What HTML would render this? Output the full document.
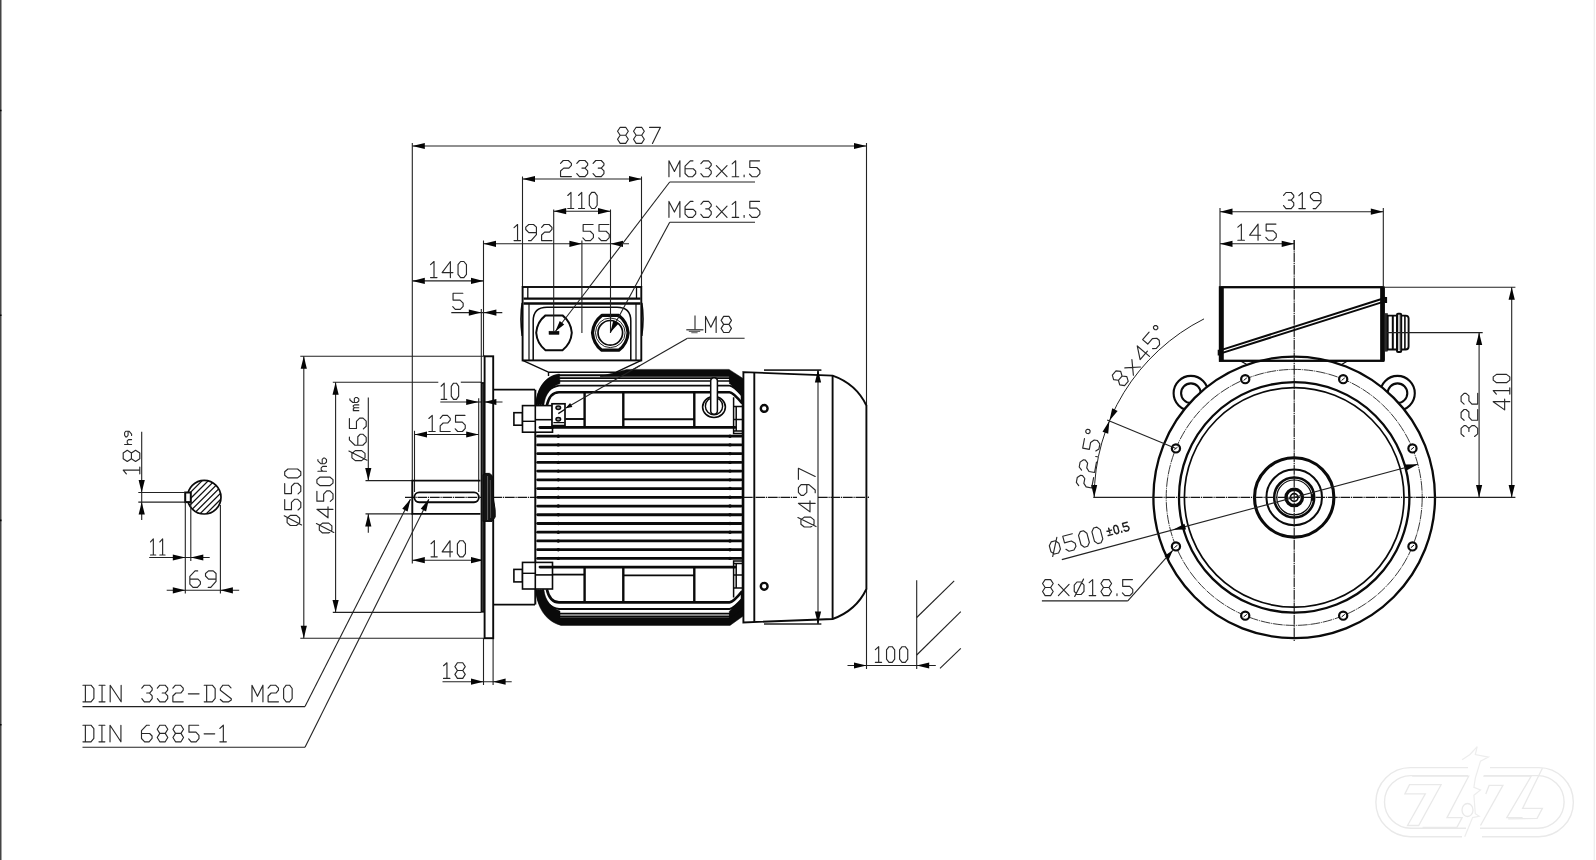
<!DOCTYPE html>
<html><head><meta charset="utf-8"><title>Motor drawing</title>
<style>html,body{margin:0;padding:0;background:#fff;}body{width:1596px;height:860px;overflow:hidden;font-family:"Liberation Sans",sans-serif;}svg{display:block}</style>
</head><body>
<svg width="1596" height="860" viewBox="0 0 1596 860">
<rect x="0" y="0" width="1596" height="860" fill="#fff"/>
<line x1="0.75" y1="0.00" x2="0.75" y2="860.00" stroke="#444" stroke-width="1.5" />
<line x1="0.00" y1="110.50" x2="1.50" y2="110.50" stroke="#000" stroke-width="1.6" />
<line x1="0.00" y1="315.30" x2="1.50" y2="315.30" stroke="#000" stroke-width="1.6" />
<line x1="0.00" y1="520.40" x2="1.50" y2="520.40" stroke="#000" stroke-width="1.6" />
<line x1="0.00" y1="724.80" x2="1.50" y2="724.80" stroke="#000" stroke-width="1.6" />
<line x1="412.30" y1="143.00" x2="412.30" y2="481.00" stroke="#222" stroke-width="1.1" />
<line x1="866.50" y1="143.00" x2="866.50" y2="406.00" stroke="#222" stroke-width="1.1" />
<line x1="412.30" y1="146.00" x2="866.50" y2="146.00" stroke="#222" stroke-width="1.1" />
<polygon points="412.30,146.00 424.80,142.90 424.80,149.10" fill="#050505"/>
<polygon points="866.50,146.00 854.00,149.10 854.00,142.90" fill="#050505"/>
<g transform="translate(617.55,127.30) rotate(0 0 16.1)" fill="none" stroke="#282828" stroke-width="1.15" stroke-linecap="round" stroke-linejoin="round" vector-effect="non-scaling-stroke"><path vector-effect="non-scaling-stroke" transform="translate(0.00,0) scale(1.5376,1.6100)" d="M1.7,0 L5.3,0 L7,2.45 L5.3,4.95 L1.7,4.95 L0,2.45 Z M1.7,4.95 L0,7.45 L1.7,10 L5.3,10 L7,7.45 L5.3,4.95"/><path vector-effect="non-scaling-stroke" transform="translate(15.99,0) scale(1.5376,1.6100)" d="M1.7,0 L5.3,0 L7,2.45 L5.3,4.95 L1.7,4.95 L0,2.45 Z M1.7,4.95 L0,7.45 L1.7,10 L5.3,10 L7,7.45 L5.3,4.95"/><path vector-effect="non-scaling-stroke" transform="translate(31.98,0) scale(1.5376,1.6100)" d="M0,0 L7.1,0 L1.9,10"/></g>
<line x1="522.50" y1="176.50" x2="522.50" y2="287.00" stroke="#222" stroke-width="1.1" />
<line x1="641.50" y1="176.50" x2="641.50" y2="287.00" stroke="#222" stroke-width="1.1" />
<line x1="522.50" y1="179.00" x2="641.50" y2="179.00" stroke="#222" stroke-width="1.1" />
<polygon points="522.50,179.00 535.00,175.90 535.00,182.10" fill="#050505"/>
<polygon points="641.50,179.00 629.00,182.10 629.00,175.90" fill="#050505"/>
<g transform="translate(560.55,160.50) rotate(0 0 16.1)" fill="none" stroke="#282828" stroke-width="1.15" stroke-linecap="round" stroke-linejoin="round" vector-effect="non-scaling-stroke"><path vector-effect="non-scaling-stroke" transform="translate(0.00,0) scale(1.5956,1.6100)" d="M0,1.8 L1.7,0 L4.9,0 L6.8,1.8 L6.8,3 L5.2,4.7 L2,4.7 L0,6.5 L0,10 L6.8,10"/><path vector-effect="non-scaling-stroke" transform="translate(16.27,0) scale(1.5956,1.6100)" d="M0,1.8 L1.65,0 L5.1,0 L6.8,1.8 L6.8,2.9 L5.1,4.7 L3.2,4.7 M5.1,4.7 L6.8,6.5 L6.8,8.1 L5.1,10 L1.65,10 L0,8.1"/><path vector-effect="non-scaling-stroke" transform="translate(32.55,0) scale(1.5956,1.6100)" d="M0,1.8 L1.65,0 L5.1,0 L6.8,1.8 L6.8,2.9 L5.1,4.7 L3.2,4.7 M5.1,4.7 L6.8,6.5 L6.8,8.1 L5.1,10 L1.65,10 L0,8.1"/></g>
<line x1="553.70" y1="209.50" x2="553.70" y2="331.00" stroke="#222" stroke-width="1.1" />
<line x1="610.50" y1="209.50" x2="610.50" y2="333.00" stroke="#222" stroke-width="1.1" />
<line x1="553.70" y1="211.20" x2="610.50" y2="211.20" stroke="#222" stroke-width="1.1" />
<polygon points="553.70,211.20 566.20,208.10 566.20,214.30" fill="#050505"/>
<polygon points="610.50,211.20 598.00,214.30 598.00,208.10" fill="#050505"/>
<g transform="translate(567.75,192.40) rotate(0 0 16.1)" fill="none" stroke="#282828" stroke-width="1.15" stroke-linecap="round" stroke-linejoin="round" vector-effect="non-scaling-stroke"><path vector-effect="non-scaling-stroke" transform="translate(0.00,0) scale(1.4000,1.6100)" d="M0,1.9 L2.3,0 L2.3,10 M0,10 L4.3,10"/><path vector-effect="non-scaling-stroke" transform="translate(10.78,0) scale(1.4000,1.6100)" d="M0,1.9 L2.3,0 L2.3,10 M0,10 L4.3,10"/><path vector-effect="non-scaling-stroke" transform="translate(21.56,0) scale(1.4000,1.6100)" d="M0,2 L1.7,0 L3.9,0 L5.6,2 L5.6,8 L3.9,10 L1.7,10 L0,8 Z"/></g>
<line x1="483.50" y1="240.50" x2="483.50" y2="356.00" stroke="#222" stroke-width="1.1" />
<line x1="581.90" y1="240.50" x2="581.90" y2="333.00" stroke="#222" stroke-width="1.1" />
<line x1="483.50" y1="243.80" x2="629.00" y2="243.80" stroke="#222" stroke-width="1.1" />
<polygon points="483.50,243.80 496.00,240.70 496.00,246.90" fill="#050505"/>
<polygon points="581.90,243.80 569.40,246.90 569.40,240.70" fill="#050505"/>
<polygon points="610.50,243.80 623.00,240.70 623.00,246.90" fill="#050505"/>
<g transform="translate(514.05,224.50) rotate(0 0 16.1)" fill="none" stroke="#282828" stroke-width="1.15" stroke-linecap="round" stroke-linejoin="round" vector-effect="non-scaling-stroke"><path vector-effect="non-scaling-stroke" transform="translate(0.00,0) scale(1.5221,1.6100)" d="M0,1.9 L2.3,0 L2.3,10 M0,10 L4.3,10"/><path vector-effect="non-scaling-stroke" transform="translate(11.72,0) scale(1.5221,1.6100)" d="M1.8,10 L3.5,10 L7,6.3 L7,1.6 L5.1,0 L2,0 L0,1.6 L0,3.1 L2,5 L7,5"/><path vector-effect="non-scaling-stroke" transform="translate(27.55,0) scale(1.5221,1.6100)" d="M0,1.8 L1.7,0 L4.9,0 L6.8,1.8 L6.8,3 L5.2,4.7 L2,4.7 L0,6.5 L0,10 L6.8,10"/></g>
<g transform="translate(582.85,224.50) rotate(0 0 16.1)" fill="none" stroke="#282828" stroke-width="1.15" stroke-linecap="round" stroke-linejoin="round" vector-effect="non-scaling-stroke"><path vector-effect="non-scaling-stroke" transform="translate(0.00,0) scale(1.5529,1.6100)" d="M6.6,0 L0.2,0 L0.2,4.2 L4.8,4.2 L6.8,6.1 L6.8,8.1 L4.9,10 L1.65,10 L0,8.3"/><path vector-effect="non-scaling-stroke" transform="translate(15.84,0) scale(1.5529,1.6100)" d="M6.6,0 L0.2,0 L0.2,4.2 L4.8,4.2 L6.8,6.1 L6.8,8.1 L4.9,10 L1.65,10 L0,8.3"/></g>
<line x1="412.30" y1="280.90" x2="483.50" y2="280.90" stroke="#222" stroke-width="1.1" />
<polygon points="412.30,280.90 424.80,277.80 424.80,284.00" fill="#050505"/>
<polygon points="483.50,280.90 471.00,284.00 471.00,277.80" fill="#050505"/>
<g transform="translate(430.55,261.50) rotate(0 0 16.1)" fill="none" stroke="#282828" stroke-width="1.15" stroke-linecap="round" stroke-linejoin="round" vector-effect="non-scaling-stroke"><path vector-effect="non-scaling-stroke" transform="translate(0.00,0) scale(1.5021,1.6100)" d="M0,1.9 L2.3,0 L2.3,10 M0,10 L4.3,10"/><path vector-effect="non-scaling-stroke" transform="translate(11.57,0) scale(1.5021,1.6100)" d="M5.5,10 L5.5,0 L0,6.9 L7.2,6.9"/><path vector-effect="non-scaling-stroke" transform="translate(27.49,0) scale(1.5021,1.6100)" d="M0,2 L1.7,0 L3.9,0 L5.6,2 L5.6,8 L3.9,10 L1.7,10 L0,8 Z"/></g>
<line x1="451.30" y1="312.60" x2="502.30" y2="312.60" stroke="#222" stroke-width="1.1" />
<polygon points="481.30,312.60 468.80,315.70 468.80,309.50" fill="#050505"/>
<polygon points="483.90,312.60 496.40,309.50 496.40,315.70" fill="#050505"/>
<line x1="481.30" y1="308.90" x2="481.30" y2="383.00" stroke="#222" stroke-width="1.1" />
<g transform="translate(452.75,293.30) rotate(0 0 16.1)" fill="none" stroke="#282828" stroke-width="1.15" stroke-linecap="round" stroke-linejoin="round" vector-effect="non-scaling-stroke"><path vector-effect="non-scaling-stroke" transform="translate(0.00,0) scale(1.5294,1.6100)" d="M6.6,0 L0.2,0 L0.2,4.2 L4.8,4.2 L6.8,6.1 L6.8,8.1 L4.9,10 L1.65,10 L0,8.3"/></g>
<line x1="300.30" y1="356.30" x2="485.00" y2="356.30" stroke="#222" stroke-width="1.1" />
<line x1="300.30" y1="638.20" x2="485.00" y2="638.20" stroke="#222" stroke-width="1.1" />
<line x1="303.80" y1="356.30" x2="303.80" y2="638.20" stroke="#222" stroke-width="1.1" />
<polygon points="303.80,356.30 306.90,368.80 300.70,368.80" fill="#050505"/>
<polygon points="303.80,638.20 300.70,625.70 306.90,625.70" fill="#050505"/>
<g transform="translate(300.80,509.35) rotate(-90 0 16.1)" fill="none" stroke="#282828" stroke-width="1.15" stroke-linecap="round" stroke-linejoin="round" vector-effect="non-scaling-stroke"><path vector-effect="non-scaling-stroke" transform="translate(0.00,0) scale(1.5754,1.6100)" d="M0,3.5 L1.8,1.5 L4.6,1.5 L6.4,3.5 L6.4,7.3 L4.6,9.3 L1.8,9.3 L0,7.3 Z M0.3,10.5 L6.1,-0.3"/><path vector-effect="non-scaling-stroke" transform="translate(15.44,0) scale(1.5754,1.6100)" d="M6.6,0 L0.2,0 L0.2,4.2 L4.8,4.2 L6.8,6.1 L6.8,8.1 L4.9,10 L1.65,10 L0,8.3"/><path vector-effect="non-scaling-stroke" transform="translate(31.51,0) scale(1.5754,1.6100)" d="M6.6,0 L0.2,0 L0.2,4.2 L4.8,4.2 L6.8,6.1 L6.8,8.1 L4.9,10 L1.65,10 L0,8.3"/><path vector-effect="non-scaling-stroke" transform="translate(47.58,0) scale(1.5754,1.6100)" d="M0,2 L1.7,0 L3.9,0 L5.6,2 L5.6,8 L3.9,10 L1.7,10 L0,8 Z"/></g>
<line x1="332.80" y1="382.20" x2="438.30" y2="382.20" stroke="#222" stroke-width="1.1" />
<line x1="460.80" y1="382.20" x2="481.30" y2="382.20" stroke="#222" stroke-width="1.1" />
<line x1="332.80" y1="612.40" x2="481.30" y2="612.40" stroke="#222" stroke-width="1.1" />
<line x1="335.60" y1="382.20" x2="335.60" y2="612.40" stroke="#222" stroke-width="1.1" />
<polygon points="335.60,382.20 338.70,394.70 332.50,394.70" fill="#050505"/>
<polygon points="335.60,612.40 332.50,599.90 338.70,599.90" fill="#050505"/>
<g transform="translate(333.00,516.85) rotate(-90 0 16.1)" fill="none" stroke="#282828" stroke-width="1.15" stroke-linecap="round" stroke-linejoin="round" vector-effect="non-scaling-stroke"><path vector-effect="non-scaling-stroke" transform="translate(0.00,0) scale(1.5442,1.6100)" d="M0,3.5 L1.8,1.5 L4.6,1.5 L6.4,3.5 L6.4,7.3 L4.6,9.3 L1.8,9.3 L0,7.3 Z M0.3,10.5 L6.1,-0.3"/><path vector-effect="non-scaling-stroke" transform="translate(15.13,0) scale(1.5442,1.6100)" d="M5.5,10 L5.5,0 L0,6.9 L7.2,6.9"/><path vector-effect="non-scaling-stroke" transform="translate(31.50,0) scale(1.5442,1.6100)" d="M6.6,0 L0.2,0 L0.2,4.2 L4.8,4.2 L6.8,6.1 L6.8,8.1 L4.9,10 L1.65,10 L0,8.3"/><path vector-effect="non-scaling-stroke" transform="translate(47.25,0) scale(1.5442,1.6100)" d="M0,2 L1.7,0 L3.9,0 L5.6,2 L5.6,8 L3.9,10 L1.7,10 L0,8 Z"/></g>
<g transform="translate(326.50,462.65) rotate(-90 0 8.6)" fill="none" stroke="#282828" stroke-width="1.1" stroke-linecap="round" stroke-linejoin="round" vector-effect="non-scaling-stroke"><path vector-effect="non-scaling-stroke" transform="translate(0.00,0) scale(0.8049,0.8600)" d="M0,0 L0,10 M0,5.6 L1.8,3.8 L4.3,3.8 L6,5.6 L6,10"/><path vector-effect="non-scaling-stroke" transform="translate(7.57,0) scale(0.8049,0.8600)" d="M5.2,0 L3.45,0 L0,3.3 L0,8 L2.1,10 L5,10 L7,8 L7,6.5 L5.4,5 L0,5"/></g>
<line x1="365.50" y1="480.60" x2="412.30" y2="480.60" stroke="#222" stroke-width="1.1" />
<line x1="365.50" y1="513.90" x2="412.30" y2="513.90" stroke="#222" stroke-width="1.1" />
<line x1="368.30" y1="397.50" x2="368.30" y2="480.60" stroke="#222" stroke-width="1.1" />
<line x1="368.30" y1="513.90" x2="368.30" y2="532.70" stroke="#222" stroke-width="1.1" />
<polygon points="368.30,480.60 365.20,468.10 371.40,468.10" fill="#050505"/>
<polygon points="368.30,513.90 371.40,526.40 365.20,526.40" fill="#050505"/>
<g transform="translate(366.20,443.85) rotate(-90 0 16.8)" fill="none" stroke="#282828" stroke-width="1.15" stroke-linecap="round" stroke-linejoin="round" vector-effect="non-scaling-stroke"><path vector-effect="non-scaling-stroke" transform="translate(0.00,0) scale(1.5741,1.6800)" d="M0,3.5 L1.8,1.5 L4.6,1.5 L6.4,3.5 L6.4,7.3 L4.6,9.3 L1.8,9.3 L0,7.3 Z M0.3,10.5 L6.1,-0.3"/><path vector-effect="non-scaling-stroke" transform="translate(15.43,0) scale(1.5741,1.6800)" d="M5.2,0 L3.45,0 L0,3.3 L0,8 L2.1,10 L5,10 L7,8 L7,6.5 L5.4,5 L0,5"/><path vector-effect="non-scaling-stroke" transform="translate(31.80,0) scale(1.5741,1.6800)" d="M6.6,0 L0.2,0 L0.2,4.2 L4.8,4.2 L6.8,6.1 L6.8,8.1 L4.9,10 L1.65,10 L0,8.3"/></g>
<g transform="translate(358.80,401.75) rotate(-90 0 8.9)" fill="none" stroke="#282828" stroke-width="1.1" stroke-linecap="round" stroke-linejoin="round" vector-effect="non-scaling-stroke"><path vector-effect="non-scaling-stroke" transform="translate(0.00,0) scale(0.7174,0.8900)" d="M0,3.8 L0,10 M0,5.2 L1.3,3.8 L2.8,3.8 L4,5.2 L4,10 M4,5.2 L5.3,3.8 L6.8,3.8 L8,5.2 L8,10"/><path vector-effect="non-scaling-stroke" transform="translate(8.18,0) scale(0.7174,0.8900)" d="M5.2,0 L3.45,0 L0,3.3 L0,8 L2.1,10 L5,10 L7,8 L7,6.5 L5.4,5 L0,5"/></g>
<line x1="440.30" y1="402.00" x2="502.50" y2="402.00" stroke="#222" stroke-width="1.1" />
<polygon points="478.70,402.00 466.20,405.10 466.20,398.90" fill="#050505"/>
<polygon points="483.90,402.00 496.40,398.90 496.40,405.10" fill="#050505"/>
<line x1="478.70" y1="398.30" x2="478.70" y2="492.00" stroke="#222" stroke-width="1.1" />
<g transform="translate(441.15,383.20) rotate(0 0 16.1)" fill="none" stroke="#282828" stroke-width="1.15" stroke-linecap="round" stroke-linejoin="round" vector-effect="non-scaling-stroke"><path vector-effect="non-scaling-stroke" transform="translate(0.00,0) scale(1.3158,1.6100)" d="M0,1.9 L2.3,0 L2.3,10 M0,10 L4.3,10"/><path vector-effect="non-scaling-stroke" transform="translate(10.13,0) scale(1.3158,1.6100)" d="M0,2 L1.7,0 L3.9,0 L5.6,2 L5.6,8 L3.9,10 L1.7,10 L0,8 Z"/></g>
<line x1="414.50" y1="430.80" x2="414.50" y2="492.00" stroke="#222" stroke-width="1.1" />
<line x1="414.50" y1="434.50" x2="478.70" y2="434.50" stroke="#222" stroke-width="1.1" />
<polygon points="414.50,434.50 427.00,431.40 427.00,437.60" fill="#050505"/>
<polygon points="478.70,434.50 466.20,437.60 466.20,431.40" fill="#050505"/>
<g transform="translate(428.85,415.40) rotate(0 0 16.1)" fill="none" stroke="#282828" stroke-width="1.15" stroke-linecap="round" stroke-linejoin="round" vector-effect="non-scaling-stroke"><path vector-effect="non-scaling-stroke" transform="translate(0.00,0) scale(1.4737,1.6100)" d="M0,1.9 L2.3,0 L2.3,10 M0,10 L4.3,10"/><path vector-effect="non-scaling-stroke" transform="translate(11.35,0) scale(1.4737,1.6100)" d="M0,1.8 L1.7,0 L4.9,0 L6.8,1.8 L6.8,3 L5.2,4.7 L2,4.7 L0,6.5 L0,10 L6.8,10"/><path vector-effect="non-scaling-stroke" transform="translate(26.38,0) scale(1.4737,1.6100)" d="M6.6,0 L0.2,0 L0.2,4.2 L4.8,4.2 L6.8,6.1 L6.8,8.1 L4.9,10 L1.65,10 L0,8.3"/></g>
<line x1="412.30" y1="514.00" x2="412.30" y2="563.50" stroke="#222" stroke-width="1.1" />
<line x1="412.30" y1="560.20" x2="483.50" y2="560.20" stroke="#222" stroke-width="1.1" />
<polygon points="412.30,560.20 424.80,557.10 424.80,563.30" fill="#050505"/>
<polygon points="483.50,560.20 471.00,563.30 471.00,557.10" fill="#050505"/>
<g transform="translate(431.05,540.70) rotate(0 0 16.1)" fill="none" stroke="#282828" stroke-width="1.15" stroke-linecap="round" stroke-linejoin="round" vector-effect="non-scaling-stroke"><path vector-effect="non-scaling-stroke" transform="translate(0.00,0) scale(1.4393,1.6100)" d="M0,1.9 L2.3,0 L2.3,10 M0,10 L4.3,10"/><path vector-effect="non-scaling-stroke" transform="translate(11.08,0) scale(1.4393,1.6100)" d="M5.5,10 L5.5,0 L0,6.9 L7.2,6.9"/><path vector-effect="non-scaling-stroke" transform="translate(26.34,0) scale(1.4393,1.6100)" d="M0,2 L1.7,0 L3.9,0 L5.6,2 L5.6,8 L3.9,10 L1.7,10 L0,8 Z"/></g>
<line x1="483.50" y1="638.20" x2="483.50" y2="685.00" stroke="#222" stroke-width="1.1" />
<line x1="493.10" y1="638.20" x2="493.10" y2="685.00" stroke="#222" stroke-width="1.1" />
<line x1="442.50" y1="681.70" x2="511.70" y2="681.70" stroke="#222" stroke-width="1.1" />
<polygon points="483.50,681.70 471.00,684.80 471.00,678.60" fill="#050505"/>
<polygon points="493.10,681.70 505.60,678.60 505.60,684.80" fill="#050505"/>
<g transform="translate(443.55,662.80) rotate(0 0 15.6)" fill="none" stroke="#282828" stroke-width="1.15" stroke-linecap="round" stroke-linejoin="round" vector-effect="non-scaling-stroke"><path vector-effect="non-scaling-stroke" transform="translate(0.00,0) scale(1.4762,1.5600)" d="M0,1.9 L2.3,0 L2.3,10 M0,10 L4.3,10"/><path vector-effect="non-scaling-stroke" transform="translate(11.37,0) scale(1.4762,1.5600)" d="M1.7,0 L5.3,0 L7,2.45 L5.3,4.95 L1.7,4.95 L0,2.45 Z M1.7,4.95 L0,7.45 L1.7,10 L5.3,10 L7,7.45 L5.3,4.95"/></g>
<line x1="764.00" y1="370.10" x2="821.30" y2="370.10" stroke="#222" stroke-width="1.1" />
<line x1="764.00" y1="624.00" x2="821.30" y2="624.00" stroke="#222" stroke-width="1.1" />
<line x1="818.00" y1="370.10" x2="818.00" y2="624.00" stroke="#222" stroke-width="1.1" />
<polygon points="818.00,370.10 821.10,382.60 814.90,382.60" fill="#050505"/>
<polygon points="818.00,624.00 814.90,611.50 821.10,611.50" fill="#050505"/>
<line x1="866.50" y1="588.00" x2="866.50" y2="669.00" stroke="#222" stroke-width="1.1" />
<line x1="916.70" y1="580.30" x2="916.70" y2="669.00" stroke="#222" stroke-width="1.1" />
<line x1="847.50" y1="665.50" x2="935.80" y2="665.50" stroke="#222" stroke-width="1.1" />
<polygon points="866.50,665.50 854.00,668.60 854.00,662.40" fill="#050505"/>
<polygon points="916.70,665.50 929.20,662.40 929.20,668.60" fill="#050505"/>
<g transform="translate(875.35,646.70) rotate(0 0 15.6)" fill="none" stroke="#282828" stroke-width="1.15" stroke-linecap="round" stroke-linejoin="round" vector-effect="non-scaling-stroke"><path vector-effect="non-scaling-stroke" transform="translate(0.00,0) scale(1.4529,1.5600)" d="M0,1.9 L2.3,0 L2.3,10 M0,10 L4.3,10"/><path vector-effect="non-scaling-stroke" transform="translate(11.19,0) scale(1.4529,1.5600)" d="M0,2 L1.7,0 L3.9,0 L5.6,2 L5.6,8 L3.9,10 L1.7,10 L0,8 Z"/><path vector-effect="non-scaling-stroke" transform="translate(24.26,0) scale(1.4529,1.5600)" d="M0,2 L1.7,0 L3.9,0 L5.6,2 L5.6,8 L3.9,10 L1.7,10 L0,8 Z"/></g>
<line x1="916.70" y1="617.50" x2="954.20" y2="580.80" stroke="#222" stroke-width="1.1" />
<line x1="916.70" y1="655.00" x2="960.80" y2="611.70" stroke="#222" stroke-width="1.1" />
<line x1="940.00" y1="668.30" x2="960.80" y2="648.30" stroke="#222" stroke-width="1.1" />
<g transform="translate(668.95,160.80) rotate(0 0 15.9)" fill="none" stroke="#282828" stroke-width="1.15" stroke-linecap="round" stroke-linejoin="round" vector-effect="non-scaling-stroke"><path vector-effect="non-scaling-stroke" transform="translate(0.00,0) scale(1.5201,1.5900)" d="M0,10 L0,0 L3.6,6.7 L7.2,0 L7.2,10"/><path vector-effect="non-scaling-stroke" transform="translate(16.11,0) scale(1.5201,1.5900)" d="M5.2,0 L3.45,0 L0,3.3 L0,8 L2.1,10 L5,10 L7,8 L7,6.5 L5.4,5 L0,5"/><path vector-effect="non-scaling-stroke" transform="translate(31.92,0) scale(1.5201,1.5900)" d="M0,1.8 L1.65,0 L5.1,0 L6.8,1.8 L6.8,2.9 L5.1,4.7 L3.2,4.7 M5.1,4.7 L6.8,6.5 L6.8,8.1 L5.1,10 L1.65,10 L0,8.1"/><path vector-effect="non-scaling-stroke" transform="translate(47.43,0) scale(1.5201,1.5900)" d="M0,3 L7,10 M7,3 L0,10"/><path vector-effect="non-scaling-stroke" transform="translate(63.23,0) scale(1.5201,1.5900)" d="M0,1.9 L2.3,0 L2.3,10 M0,10 L4.3,10"/><path vector-effect="non-scaling-stroke" transform="translate(74.94,0) scale(1.5201,1.5900)" d="M0.15,8.9 L0.15,10"/><path vector-effect="non-scaling-stroke" transform="translate(80.56,0) scale(1.5201,1.5900)" d="M6.6,0 L0.2,0 L0.2,4.2 L4.8,4.2 L6.8,6.1 L6.8,8.1 L4.9,10 L1.65,10 L0,8.3"/></g>
<g transform="translate(668.95,201.40) rotate(0 0 15.9)" fill="none" stroke="#282828" stroke-width="1.15" stroke-linecap="round" stroke-linejoin="round" vector-effect="non-scaling-stroke"><path vector-effect="non-scaling-stroke" transform="translate(0.00,0) scale(1.5201,1.5900)" d="M0,10 L0,0 L3.6,6.7 L7.2,0 L7.2,10"/><path vector-effect="non-scaling-stroke" transform="translate(16.11,0) scale(1.5201,1.5900)" d="M5.2,0 L3.45,0 L0,3.3 L0,8 L2.1,10 L5,10 L7,8 L7,6.5 L5.4,5 L0,5"/><path vector-effect="non-scaling-stroke" transform="translate(31.92,0) scale(1.5201,1.5900)" d="M0,1.8 L1.65,0 L5.1,0 L6.8,1.8 L6.8,2.9 L5.1,4.7 L3.2,4.7 M5.1,4.7 L6.8,6.5 L6.8,8.1 L5.1,10 L1.65,10 L0,8.1"/><path vector-effect="non-scaling-stroke" transform="translate(47.43,0) scale(1.5201,1.5900)" d="M0,3 L7,10 M7,3 L0,10"/><path vector-effect="non-scaling-stroke" transform="translate(63.23,0) scale(1.5201,1.5900)" d="M0,1.9 L2.3,0 L2.3,10 M0,10 L4.3,10"/><path vector-effect="non-scaling-stroke" transform="translate(74.94,0) scale(1.5201,1.5900)" d="M0.15,8.9 L0.15,10"/><path vector-effect="non-scaling-stroke" transform="translate(80.56,0) scale(1.5201,1.5900)" d="M6.6,0 L0.2,0 L0.2,4.2 L4.8,4.2 L6.8,6.1 L6.8,8.1 L4.9,10 L1.65,10 L0,8.3"/></g>
<line x1="669.70" y1="182.00" x2="755.00" y2="182.00" stroke="#222" stroke-width="1.1" />
<line x1="669.70" y1="222.20" x2="755.00" y2="222.20" stroke="#222" stroke-width="1.1" />
<line x1="669.70" y1="182.00" x2="555.30" y2="331.50" stroke="#222" stroke-width="1.1" />
<line x1="669.70" y1="222.20" x2="610.30" y2="332.60" stroke="#222" stroke-width="1.1" />
<line x1="687.50" y1="338.20" x2="744.60" y2="338.20" stroke="#222" stroke-width="1.1" />
<line x1="687.50" y1="338.20" x2="566.00" y2="408.00" stroke="#222" stroke-width="1.1" />
<g transform="translate(705.55,316.40) rotate(0 0 16.1)" fill="none" stroke="#282828" stroke-width="1.15" stroke-linecap="round" stroke-linejoin="round" vector-effect="non-scaling-stroke"><path vector-effect="non-scaling-stroke" transform="translate(0.00,0) scale(1.4716,1.6100)" d="M0,10 L0,0 L3.6,6.7 L7.2,0 L7.2,10"/><path vector-effect="non-scaling-stroke" transform="translate(15.60,0) scale(1.4716,1.6100)" d="M1.7,0 L5.3,0 L7,2.45 L5.3,4.95 L1.7,4.95 L0,2.45 Z M1.7,4.95 L0,7.45 L1.7,10 L5.3,10 L7,7.45 L5.3,4.95"/></g>
<line x1="695.00" y1="315.40" x2="695.00" y2="329.60" stroke="#282828" stroke-width="1.1" />
<line x1="686.30" y1="329.80" x2="703.40" y2="329.80" stroke="#282828" stroke-width="1.2" />
<line x1="688.80" y1="331.30" x2="700.20" y2="331.30" stroke="#555" stroke-width="1.2" />
<line x1="691.30" y1="332.70" x2="697.60" y2="332.70" stroke="#666" stroke-width="1.1" />
<line x1="82.50" y1="706.60" x2="305.00" y2="706.60" stroke="#222" stroke-width="1.1" />
<line x1="82.50" y1="747.20" x2="305.00" y2="747.20" stroke="#222" stroke-width="1.1" />
<line x1="305.00" y1="706.60" x2="410.40" y2="499.30" stroke="#222" stroke-width="1.1" />
<line x1="305.00" y1="747.20" x2="428.80" y2="499.30" stroke="#222" stroke-width="1.1" />
<polygon points="410.60,498.90 407.61,511.40 402.26,508.68" fill="#050505"/>
<polygon points="429.00,498.90 426.11,511.43 420.74,508.75" fill="#050505"/>
<g transform="translate(82.95,685.20) rotate(0 0 16.6)" fill="none" stroke="#282828" stroke-width="1.15" stroke-linecap="round" stroke-linejoin="round" vector-effect="non-scaling-stroke"><path vector-effect="non-scaling-stroke" transform="translate(0.00,0) scale(1.5215,1.6600)" d="M0,0 L5.3,0 L7.2,2 L7.2,8 L5.3,10 L0,10 M1.6,0 L1.6,10"/><path vector-effect="non-scaling-stroke" transform="translate(16.13,0) scale(1.5215,1.6600)" d="M0,0 L3.9,0 M1.95,0 L1.95,10 M0,10 L3.9,10"/><path vector-effect="non-scaling-stroke" transform="translate(27.23,0) scale(1.5215,1.6600)" d="M0,10 L0,0 L7.2,10 L7.2,0"/><path vector-effect="non-scaling-stroke" transform="translate(58.88,0) scale(1.5215,1.6600)" d="M0,1.8 L1.65,0 L5.1,0 L6.8,1.8 L6.8,2.9 L5.1,4.7 L3.2,4.7 M5.1,4.7 L6.8,6.5 L6.8,8.1 L5.1,10 L1.65,10 L0,8.1"/><path vector-effect="non-scaling-stroke" transform="translate(74.40,0) scale(1.5215,1.6600)" d="M0,1.8 L1.65,0 L5.1,0 L6.8,1.8 L6.8,2.9 L5.1,4.7 L3.2,4.7 M5.1,4.7 L6.8,6.5 L6.8,8.1 L5.1,10 L1.65,10 L0,8.1"/><path vector-effect="non-scaling-stroke" transform="translate(89.92,0) scale(1.5215,1.6600)" d="M0,1.8 L1.7,0 L4.9,0 L6.8,1.8 L6.8,3 L5.2,4.7 L2,4.7 L0,6.5 L0,10 L6.8,10"/><path vector-effect="non-scaling-stroke" transform="translate(105.44,0) scale(1.5215,1.6600)" d="M0,5.2 L7,5.2"/><path vector-effect="non-scaling-stroke" transform="translate(121.26,0) scale(1.5215,1.6600)" d="M0,0 L5.3,0 L7.2,2 L7.2,8 L5.3,10 L0,10 M1.6,0 L1.6,10"/><path vector-effect="non-scaling-stroke" transform="translate(137.39,0) scale(1.5215,1.6600)" d="M7,1.6 L5.3,0 L1.7,0 L0,2 L0,3 L7.2,8.2 L7.2,8.9 L5.5,10 L1.7,10 L0,8.6"/><path vector-effect="non-scaling-stroke" transform="translate(169.03,0) scale(1.5215,1.6600)" d="M0,10 L0,0 L3.6,6.7 L7.2,0 L7.2,10"/><path vector-effect="non-scaling-stroke" transform="translate(185.16,0) scale(1.5215,1.6600)" d="M0,1.8 L1.7,0 L4.9,0 L6.8,1.8 L6.8,3 L5.2,4.7 L2,4.7 L0,6.5 L0,10 L6.8,10"/><path vector-effect="non-scaling-stroke" transform="translate(200.68,0) scale(1.5215,1.6600)" d="M0,2 L1.7,0 L3.9,0 L5.6,2 L5.6,8 L3.9,10 L1.7,10 L0,8 Z"/></g>
<g transform="translate(82.95,725.20) rotate(0 0 16.6)" fill="none" stroke="#282828" stroke-width="1.15" stroke-linecap="round" stroke-linejoin="round" vector-effect="non-scaling-stroke"><path vector-effect="non-scaling-stroke" transform="translate(0.00,0) scale(1.5127,1.6600)" d="M0,0 L5.3,0 L7.2,2 L7.2,8 L5.3,10 L0,10 M1.6,0 L1.6,10"/><path vector-effect="non-scaling-stroke" transform="translate(16.03,0) scale(1.5127,1.6600)" d="M0,0 L3.9,0 M1.95,0 L1.95,10 M0,10 L3.9,10"/><path vector-effect="non-scaling-stroke" transform="translate(27.08,0) scale(1.5127,1.6600)" d="M0,10 L0,0 L7.2,10 L7.2,0"/><path vector-effect="non-scaling-stroke" transform="translate(58.54,0) scale(1.5127,1.6600)" d="M5.2,0 L3.45,0 L0,3.3 L0,8 L2.1,10 L5,10 L7,8 L7,6.5 L5.4,5 L0,5"/><path vector-effect="non-scaling-stroke" transform="translate(74.27,0) scale(1.5127,1.6600)" d="M1.7,0 L5.3,0 L7,2.45 L5.3,4.95 L1.7,4.95 L0,2.45 Z M1.7,4.95 L0,7.45 L1.7,10 L5.3,10 L7,7.45 L5.3,4.95"/><path vector-effect="non-scaling-stroke" transform="translate(90.00,0) scale(1.5127,1.6600)" d="M1.7,0 L5.3,0 L7,2.45 L5.3,4.95 L1.7,4.95 L0,2.45 Z M1.7,4.95 L0,7.45 L1.7,10 L5.3,10 L7,7.45 L5.3,4.95"/><path vector-effect="non-scaling-stroke" transform="translate(105.73,0) scale(1.5127,1.6600)" d="M6.6,0 L0.2,0 L0.2,4.2 L4.8,4.2 L6.8,6.1 L6.8,8.1 L4.9,10 L1.65,10 L0,8.3"/><path vector-effect="non-scaling-stroke" transform="translate(121.16,0) scale(1.5127,1.6600)" d="M0,5.2 L7,5.2"/><path vector-effect="non-scaling-stroke" transform="translate(136.90,0) scale(1.5127,1.6600)" d="M0,1.9 L2.3,0 L2.3,10 M0,10 L4.3,10"/></g>
<line x1="405.00" y1="497.30" x2="797.00" y2="497.30" stroke="#151515" stroke-width="1.15" stroke-dasharray="9.7 0.8 1.2 0.8"/>
<line x1="818.00" y1="497.30" x2="869.00" y2="497.30" stroke="#151515" stroke-width="1.15" stroke-dasharray="9.7 0.8 1.2 0.8"/>
<path d="M480.5,480.6 L412.3,480.6 L412.3,513.9 L480.5,513.9" stroke="#0a0a0a" stroke-width="1.9" fill="none" />
<rect x="414.30" y="492.40" width="64.60" height="9.80" stroke="#0a0a0a" stroke-width="1.9" fill="none" rx="4.9" ry="4.9"/>
<rect x="484.60" y="356.30" width="8.60" height="281.90" stroke="#0a0a0a" stroke-width="1.9" fill="none" />
<rect x="480.90" y="382.20" width="3.70" height="230.20" stroke="#0a0a0a" stroke-width="0.4" fill="#111" />
<line x1="482.70" y1="384.00" x2="482.70" y2="611.00" stroke="#777" stroke-width="0.5" />
<path d="M483.0,474.6 L486,473.4 L489.5,473.4 Q492.4,474.5 492.8,478 L493.6,500 Q495.8,510 495.2,517 L492,521.4 L483.0,521.4 Z" stroke="#0a0a0a" stroke-width="1" fill="#141414" />
<line x1="487.60" y1="476.00" x2="487.60" y2="520.00" stroke="#888" stroke-width="0.7" />
<line x1="490.30" y1="480.00" x2="490.60" y2="518.00" stroke="#666" stroke-width="0.7" />
<path d="M493.1,389.7 L535,389.7 M493.1,604.6 L535,604.6" stroke="#0a0a0a" stroke-width="1.8" fill="none" />
<rect x="522.60" y="287.00" width="118.70" height="73.40" stroke="#0a0a0a" stroke-width="1.9" fill="#fff" />
<line x1="527.80" y1="287.00" x2="527.80" y2="299.00" stroke="#0a0a0a" stroke-width="1.3" />
<line x1="636.50" y1="287.00" x2="636.50" y2="299.00" stroke="#0a0a0a" stroke-width="1.3" />
<line x1="523.50" y1="298.60" x2="640.50" y2="298.60" stroke="#0a0a0a" stroke-width="2.3" />
<line x1="523.50" y1="303.50" x2="640.50" y2="303.50" stroke="#0a0a0a" stroke-width="2.3" />
<line x1="529.00" y1="303.40" x2="529.00" y2="360.00" stroke="#0a0a0a" stroke-width="1.2" />
<line x1="636.00" y1="303.40" x2="636.00" y2="360.00" stroke="#0a0a0a" stroke-width="1.2" />
<path d="M533.2,360 L533.2,321 Q533.2,307.3 547,307.3 L617,307.3 Q630.8,307.3 630.8,321 L630.8,360" stroke="#0a0a0a" stroke-width="1.5" fill="none" />
<path d="M522.2,303 Q519.8,318 522.2,336 M641.8,303 Q644.2,318 641.8,336" stroke="#0a0a0a" stroke-width="1.6" fill="none" />
<path d="M522.6,360.4 L548.5,372.2 L548.5,377 M641.3,360.4 L616.2,372.2 M548.5,372.2 L617,372.2" stroke="#0a0a0a" stroke-width="1.4" fill="none" />
<path d="M545.5,315.40000000000003 L562.5,315.40000000000003 Q571,321.95 571.8,332.8 Q571,343.65000000000003 562.5,350.2 L545.5,350.2 Q537,343.65000000000003 536.2,332.8 Q537,321.95 545.5,315.40000000000003 Z" stroke="#0a0a0a" stroke-width="2.0" fill="#fff" stroke-linejoin="round"/>
<rect x="549.00" y="331.20" width="10.00" height="3.20" stroke="#0a0a0a" stroke-width="0.5" fill="#0a0a0a" />
<path d="M601.8,315.40000000000003 L618.8,315.40000000000003 Q627.3,321.95 628.0999999999999,332.8 Q627.3,343.65000000000003 618.8,350.2 L601.8,350.2 Q593.3,343.65000000000003 592.5,332.8 Q593.3,321.95 601.8,315.40000000000003 Z" stroke="#0a0a0a" stroke-width="3.2" fill="#fff" stroke-linejoin="round"/>
<circle cx="610.30" cy="332.80" r="14.80" stroke="#0a0a0a" stroke-width="0.9" fill="none" />
<circle cx="610.30" cy="332.80" r="12.30" stroke="#0a0a0a" stroke-width="1.7" fill="none" />
<line x1="553.70" y1="286.00" x2="553.70" y2="331.00" stroke="#222" stroke-width="1.1" />
<line x1="610.50" y1="286.00" x2="610.50" y2="333.00" stroke="#222" stroke-width="1.1" />
<line x1="581.90" y1="286.00" x2="581.90" y2="333.00" stroke="#222" stroke-width="1.1" />
<line x1="590.30" y1="286.00" x2="555.30" y2="331.50" stroke="#222" stroke-width="1.1" />
<line x1="635.40" y1="286.00" x2="610.30" y2="332.60" stroke="#222" stroke-width="1.1" />
<polygon points="555.30,331.50 559.77,321.07 564.22,324.48" fill="#050505"/>
<polygon points="610.30,332.60 613.35,320.61 618.63,323.46" fill="#050505"/>
<rect x="535.30" y="376.00" width="207.50" height="243.00" stroke="none" stroke-width="0" fill="#fff" />
<line x1="535.30" y1="389.70" x2="535.30" y2="604.60" stroke="#0a0a0a" stroke-width="2.0" />
<line x1="742.80" y1="380.00" x2="742.80" y2="615.00" stroke="#0a0a0a" stroke-width="2.2" />
<path d="M536.6,405 C536.6,392 545.6,376.2 559,375.2 L729.5,375.2 Q733,375.2 742.5,385.7" stroke="#0a0a0a" stroke-width="2.0" fill="none" />
<path d="M538.3,405 C538.3,392 547.3,379.2 559,378.2 L729.5,378.2 Q733,378.2 742.5,388.7" stroke="#0a0a0a" stroke-width="1.8" fill="none" />
<path d="M540.3,405 C540.3,392 549.3,382.0 559,381.0 L729.5,381.0 Q733,381.0 742.5,391.5" stroke="#0a0a0a" stroke-width="1.6" fill="none" />
<path d="M543,405 C543,392 552,386.6 559,385.6 L729.5,385.6 Q733,385.6 742.5,396.1" stroke="#0a0a0a" stroke-width="1.9" fill="none" />
<path d="M546.8,405.5 C548.5,398 552.5,392.2 559,392.2 L729.5,392.2 Q733,392.2 742.3,403.5" stroke="#0a0a0a" stroke-width="2.6" fill="none" />
<path d="M536.2,404 C536.5,389 545,375.5 559.5,374 L560,383.5 C552,386 545,394 543.8,405 Z" stroke="#0a0a0a" stroke-width="0.5" fill="#0a0a0a" />
<path d="M616,372.2 L627,369.4 L729,369.4 L743.5,378.8 L743.5,403 L741,403 L741,391 L729.5,381.5 L729.5,376.6 L600,376.6 Z" stroke="#0a0a0a" stroke-width="0.5" fill="#0a0a0a" />
<path d="M536.6,589.6 C536.6,602.6 545.6,618.4 559,619.4 L729.5,619.4 Q733,619.4 742.5,608.9" stroke="#0a0a0a" stroke-width="2.0" fill="none" />
<path d="M538.3,589.6 C538.3,602.6 547.3,615.4 559,616.4 L729.5,616.4 Q733,616.4 742.5,605.9" stroke="#0a0a0a" stroke-width="1.8" fill="none" />
<path d="M540.3,589.6 C540.3,602.6 549.3,612.6 559,613.6 L729.5,613.6 Q733,613.6 742.5,603.1" stroke="#0a0a0a" stroke-width="1.6" fill="none" />
<path d="M543,589.6 C543,602.6 552,608.0 559,609.0 L729.5,609.0 Q733,609.0 742.5,598.5" stroke="#0a0a0a" stroke-width="1.9" fill="none" />
<path d="M546.8,589.1 C548.5,596.6 552.5,602.4 559,602.4 L729.5,602.4 Q733,602.4 742.3,591.1" stroke="#0a0a0a" stroke-width="2.6" fill="none" />
<path d="M536.2,590.6 C536.5,605.6 545,621.5 561,625.4 L730,625.4 L743.5,615.8 L743.5,591.6 L741,591.6 L741,603.6 L729.5,613.1 L729.5,617.6 L560,617.6 L560,611.1 C552,608.6 545,600.6 543.8,589.6 Z" stroke="#0a0a0a" stroke-width="0.5" fill="#0a0a0a" />
<path d="M729.3,376 L743.5,386 L743.5,397.5 L729.3,383.3 Z" stroke="#0a0a0a" stroke-width="0.3" fill="#0a0a0a" />
<path d="M729.3,618.6 L743.5,608.6 L743.5,597.1 L729.3,611.3 Z" stroke="#0a0a0a" stroke-width="0.3" fill="#0a0a0a" />
<line x1="540.00" y1="427.46" x2="735.00" y2="427.46" stroke="#0a0a0a" stroke-width="2.8" stroke-linecap="round"/>
<line x1="537.60" y1="436.19" x2="741.20" y2="436.19" stroke="#0a0a0a" stroke-width="2.8" stroke-linecap="round"/>
<circle cx="558.30" cy="436.19" r="1.70" stroke="none" stroke-width="0" fill="#0a0a0a" />
<circle cx="730.00" cy="436.19" r="1.70" stroke="none" stroke-width="0" fill="#0a0a0a" />
<line x1="537.60" y1="444.92" x2="741.20" y2="444.92" stroke="#0a0a0a" stroke-width="2.8" stroke-linecap="round"/>
<circle cx="558.30" cy="444.92" r="1.70" stroke="none" stroke-width="0" fill="#0a0a0a" />
<circle cx="730.00" cy="444.92" r="1.70" stroke="none" stroke-width="0" fill="#0a0a0a" />
<line x1="537.60" y1="453.65" x2="741.20" y2="453.65" stroke="#0a0a0a" stroke-width="2.8" stroke-linecap="round"/>
<circle cx="558.30" cy="453.65" r="1.70" stroke="none" stroke-width="0" fill="#0a0a0a" />
<circle cx="730.00" cy="453.65" r="1.70" stroke="none" stroke-width="0" fill="#0a0a0a" />
<line x1="537.60" y1="462.38" x2="741.20" y2="462.38" stroke="#0a0a0a" stroke-width="2.8" stroke-linecap="round"/>
<circle cx="558.30" cy="462.38" r="1.70" stroke="none" stroke-width="0" fill="#0a0a0a" />
<circle cx="730.00" cy="462.38" r="1.70" stroke="none" stroke-width="0" fill="#0a0a0a" />
<line x1="537.60" y1="471.11" x2="741.20" y2="471.11" stroke="#0a0a0a" stroke-width="2.8" stroke-linecap="round"/>
<circle cx="558.30" cy="471.11" r="1.70" stroke="none" stroke-width="0" fill="#0a0a0a" />
<circle cx="730.00" cy="471.11" r="1.70" stroke="none" stroke-width="0" fill="#0a0a0a" />
<line x1="537.60" y1="479.84" x2="741.20" y2="479.84" stroke="#0a0a0a" stroke-width="2.8" stroke-linecap="round"/>
<circle cx="558.30" cy="479.84" r="1.70" stroke="none" stroke-width="0" fill="#0a0a0a" />
<circle cx="730.00" cy="479.84" r="1.70" stroke="none" stroke-width="0" fill="#0a0a0a" />
<line x1="537.60" y1="488.57" x2="741.20" y2="488.57" stroke="#0a0a0a" stroke-width="2.8" stroke-linecap="round"/>
<circle cx="558.30" cy="488.57" r="1.70" stroke="none" stroke-width="0" fill="#0a0a0a" />
<circle cx="730.00" cy="488.57" r="1.70" stroke="none" stroke-width="0" fill="#0a0a0a" />
<line x1="537.60" y1="497.30" x2="741.20" y2="497.30" stroke="#0a0a0a" stroke-width="2.8" stroke-linecap="round"/>
<circle cx="558.30" cy="497.30" r="1.70" stroke="none" stroke-width="0" fill="#0a0a0a" />
<circle cx="730.00" cy="497.30" r="1.70" stroke="none" stroke-width="0" fill="#0a0a0a" />
<line x1="537.60" y1="506.03" x2="741.20" y2="506.03" stroke="#0a0a0a" stroke-width="2.8" stroke-linecap="round"/>
<circle cx="558.30" cy="506.03" r="1.70" stroke="none" stroke-width="0" fill="#0a0a0a" />
<circle cx="730.00" cy="506.03" r="1.70" stroke="none" stroke-width="0" fill="#0a0a0a" />
<line x1="537.60" y1="514.76" x2="741.20" y2="514.76" stroke="#0a0a0a" stroke-width="2.8" stroke-linecap="round"/>
<circle cx="558.30" cy="514.76" r="1.70" stroke="none" stroke-width="0" fill="#0a0a0a" />
<circle cx="730.00" cy="514.76" r="1.70" stroke="none" stroke-width="0" fill="#0a0a0a" />
<line x1="537.60" y1="523.49" x2="741.20" y2="523.49" stroke="#0a0a0a" stroke-width="2.8" stroke-linecap="round"/>
<circle cx="558.30" cy="523.49" r="1.70" stroke="none" stroke-width="0" fill="#0a0a0a" />
<circle cx="730.00" cy="523.49" r="1.70" stroke="none" stroke-width="0" fill="#0a0a0a" />
<line x1="537.60" y1="532.22" x2="741.20" y2="532.22" stroke="#0a0a0a" stroke-width="2.8" stroke-linecap="round"/>
<circle cx="558.30" cy="532.22" r="1.70" stroke="none" stroke-width="0" fill="#0a0a0a" />
<circle cx="730.00" cy="532.22" r="1.70" stroke="none" stroke-width="0" fill="#0a0a0a" />
<line x1="537.60" y1="540.95" x2="741.20" y2="540.95" stroke="#0a0a0a" stroke-width="2.8" stroke-linecap="round"/>
<circle cx="558.30" cy="540.95" r="1.70" stroke="none" stroke-width="0" fill="#0a0a0a" />
<circle cx="730.00" cy="540.95" r="1.70" stroke="none" stroke-width="0" fill="#0a0a0a" />
<line x1="537.60" y1="549.68" x2="741.20" y2="549.68" stroke="#0a0a0a" stroke-width="2.8" stroke-linecap="round"/>
<circle cx="558.30" cy="549.68" r="1.70" stroke="none" stroke-width="0" fill="#0a0a0a" />
<circle cx="730.00" cy="549.68" r="1.70" stroke="none" stroke-width="0" fill="#0a0a0a" />
<line x1="537.60" y1="558.41" x2="741.20" y2="558.41" stroke="#0a0a0a" stroke-width="2.8" stroke-linecap="round"/>
<circle cx="558.30" cy="558.41" r="1.70" stroke="none" stroke-width="0" fill="#0a0a0a" />
<circle cx="730.00" cy="558.41" r="1.70" stroke="none" stroke-width="0" fill="#0a0a0a" />
<line x1="540.00" y1="567.14" x2="735.00" y2="567.14" stroke="#0a0a0a" stroke-width="2.8" stroke-linecap="round"/>
<line x1="584.60" y1="392.20" x2="584.60" y2="427.40" stroke="#0a0a0a" stroke-width="2.4" />
<line x1="623.30" y1="392.20" x2="623.30" y2="427.40" stroke="#0a0a0a" stroke-width="2.4" />
<line x1="694.30" y1="392.20" x2="694.30" y2="427.40" stroke="#0a0a0a" stroke-width="2.4" />
<line x1="623.30" y1="419.20" x2="694.30" y2="419.20" stroke="#0a0a0a" stroke-width="1.9" />
<line x1="584.60" y1="602.40" x2="584.60" y2="567.20" stroke="#0a0a0a" stroke-width="2.4" />
<line x1="623.30" y1="602.40" x2="623.30" y2="567.20" stroke="#0a0a0a" stroke-width="2.4" />
<line x1="694.30" y1="602.40" x2="694.30" y2="567.20" stroke="#0a0a0a" stroke-width="2.4" />
<line x1="623.30" y1="575.40" x2="694.30" y2="575.40" stroke="#0a0a0a" stroke-width="1.9" />
<line x1="553.00" y1="574.60" x2="584.60" y2="574.60" stroke="#0a0a0a" stroke-width="1.8" />
<path d="M733.6,397.2 L733.6,433.5 L742,433.5 M733.6,406.5 L742,406.5 M733.6,419.5 L742,419.5 M736.2,406.5 L736.2,431.5 M733.6,431.0 L742,431.0" stroke="#0a0a0a" stroke-width="1.5" fill="none" />
<path d="M733.6,597.4000000000001 L733.6,561.1 L742,561.1 M733.6,588.1 L742,588.1 M733.6,575.1 L742,575.1 M736.2,588.1 L736.2,563.1 M733.6,563.6 L742,563.6" stroke="#0a0a0a" stroke-width="1.5" fill="none" />
<ellipse cx="714" cy="407" rx="11.4" ry="10.5" fill="#fff" stroke="#0a0a0a" stroke-width="1.6"/>
<ellipse cx="714" cy="406.2" rx="8.6" ry="8.6" fill="#fff" stroke="#0a0a0a" stroke-width="1.4"/>
<rect x="710.70" y="377.70" width="6.70" height="36.50" stroke="#0a0a0a" stroke-width="1.5" fill="#fff" rx="3.35" ry="3.35"/>
<rect x="513.90" y="412.70" width="8.60" height="12.50" stroke="#0a0a0a" stroke-width="1.6" fill="#fff" />
<rect x="522.50" y="405.60" width="30.00" height="26.60" stroke="#0a0a0a" stroke-width="1.6" fill="#fff" />
<line x1="522.50" y1="421.30" x2="535.30" y2="421.30" stroke="#0a0a0a" stroke-width="1.4" />
<line x1="535.30" y1="405.60" x2="535.30" y2="432.20" stroke="#0a0a0a" stroke-width="1.6" />
<line x1="540.00" y1="427.50" x2="552.50" y2="427.50" stroke="#0a0a0a" stroke-width="2.8" stroke-linecap="round"/>
<line x1="535.30" y1="419.70" x2="552.50" y2="419.70" stroke="#0a0a0a" stroke-width="1.6" />
<rect x="513.90" y="569.40" width="8.60" height="12.50" stroke="#0a0a0a" stroke-width="1.6" fill="#fff" />
<rect x="522.50" y="562.40" width="30.00" height="26.60" stroke="#0a0a0a" stroke-width="1.6" fill="#fff" />
<line x1="522.50" y1="573.30" x2="535.30" y2="573.30" stroke="#0a0a0a" stroke-width="1.4" />
<line x1="535.30" y1="562.40" x2="535.30" y2="589.00" stroke="#0a0a0a" stroke-width="1.6" />
<line x1="540.00" y1="567.10" x2="552.50" y2="567.10" stroke="#0a0a0a" stroke-width="2.8" stroke-linecap="round"/>
<line x1="535.30" y1="574.90" x2="552.50" y2="574.90" stroke="#0a0a0a" stroke-width="1.6" />
<rect x="552.00" y="403.80" width="13.00" height="21.80" stroke="#0a0a0a" stroke-width="1.7" fill="#fff" />
<line x1="553.40" y1="422.60" x2="564.40" y2="422.60" stroke="#0a0a0a" stroke-width="1.2" />
<ellipse cx="558.3" cy="407.8" rx="2.3" ry="1.7" fill="#999" stroke="#0a0a0a" stroke-width="1.5"/>
<ellipse cx="558.3" cy="419.2" rx="2.3" ry="1.7" fill="#999" stroke="#0a0a0a" stroke-width="1.5"/>
<line x1="558.30" y1="413.60" x2="565.00" y2="409.30" stroke="#0a0a0a" stroke-width="1.3" />
<line x1="566.00" y1="408.00" x2="640.00" y2="365.50" stroke="#222" stroke-width="1.1" />
<polygon points="565.60,408.30 570.10,403.07 572.38,407.07" fill="#050505"/>
<line x1="565.50" y1="419.00" x2="584.60" y2="419.00" stroke="#0a0a0a" stroke-width="1.9" />
<path d="M743.4,372.1 L832.6,375.6 C848,381 860,392 866.4,405.5 L866.4,589 C860,602.5 848,613.5 832.6,619 L743.4,622.4 Z" stroke="#0a0a0a" stroke-width="1.9" fill="#fff" />
<line x1="754.30" y1="372.50" x2="754.30" y2="622.00" stroke="#0a0a0a" stroke-width="1.9" />
<line x1="832.60" y1="375.60" x2="832.60" y2="619.00" stroke="#0a0a0a" stroke-width="1.9" />
<circle cx="764.20" cy="408.40" r="3.40" stroke="#0a0a0a" stroke-width="2.4" fill="#fff" />
<circle cx="764.20" cy="586.30" r="3.40" stroke="#0a0a0a" stroke-width="2.4" fill="#fff" />
<line x1="764.00" y1="370.10" x2="821.30" y2="370.10" stroke="#222" stroke-width="1.1" />
<line x1="764.00" y1="624.00" x2="821.30" y2="624.00" stroke="#222" stroke-width="1.1" />
<line x1="818.00" y1="370.10" x2="818.00" y2="624.00" stroke="#222" stroke-width="1.1" />
<polygon points="818.00,370.10 821.10,382.60 814.90,382.60" fill="#050505"/>
<polygon points="818.00,624.00 814.90,611.50 821.10,611.50" fill="#050505"/>
<line x1="743.00" y1="497.30" x2="797.00" y2="497.30" stroke="#151515" stroke-width="1.15" stroke-dasharray="9.7 0.8 1.2 0.8"/>
<line x1="818.00" y1="497.30" x2="869.00" y2="497.30" stroke="#151515" stroke-width="1.15" stroke-dasharray="9.7 0.8 1.2 0.8"/>
<g transform="translate(815.20,510.25) rotate(-90 0 16.8)" fill="none" stroke="#282828" stroke-width="1.15" stroke-linecap="round" stroke-linejoin="round" vector-effect="non-scaling-stroke"><path vector-effect="non-scaling-stroke" transform="translate(0.00,0) scale(1.5488,1.6800)" d="M0,3.5 L1.8,1.5 L4.6,1.5 L6.4,3.5 L6.4,7.3 L4.6,9.3 L1.8,9.3 L0,7.3 Z M0.3,10.5 L6.1,-0.3"/><path vector-effect="non-scaling-stroke" transform="translate(15.18,0) scale(1.5488,1.6800)" d="M5.5,10 L5.5,0 L0,6.9 L7.2,6.9"/><path vector-effect="non-scaling-stroke" transform="translate(31.60,0) scale(1.5488,1.6800)" d="M1.8,10 L3.5,10 L7,6.3 L7,1.6 L5.1,0 L2,0 L0,1.6 L0,3.1 L2,5 L7,5"/><path vector-effect="non-scaling-stroke" transform="translate(47.70,0) scale(1.5488,1.6800)" d="M0,0 L7.1,0 L1.9,10"/></g>
<defs><clipPath id="shc"><circle cx="204.2" cy="497.2" r="16.8"/></clipPath></defs>
<path d="M134.6,517.2 L174.6,477.2 M140.8,517.2 L180.8,477.2 M147.0,517.2 L187.0,477.2 M153.2,517.2 L193.2,477.2 M159.4,517.2 L199.4,477.2 M165.6,517.2 L205.6,477.2 M171.8,517.2 L211.8,477.2 M178.0,517.2 L218.0,477.2 M184.2,517.2 L224.2,477.2 M190.4,517.2 L230.4,477.2 M196.6,517.2 L236.6,477.2 M202.8,517.2 L242.8,477.2 M209.0,517.2 L249.0,477.2 M215.2,517.2 L255.2,477.2 M221.4,517.2 L261.4,477.2 M227.6,517.2 L267.6,477.2 M233.8,517.2 L273.8,477.2" stroke="#111" stroke-width="1.25" fill="none" clip-path="url(#shc)"/>
<circle cx="204.20" cy="497.20" r="16.80" stroke="#0a0a0a" stroke-width="1.7" fill="none" />
<rect x="185.20" y="492.50" width="5.60" height="9.60" stroke="#0a0a0a" stroke-width="2.0" fill="#fff" />
<line x1="141.70" y1="431.70" x2="141.70" y2="520.00" stroke="#222" stroke-width="1.1" />
<polygon points="141.70,492.50 138.60,480.00 144.80,480.00" fill="#050505"/>
<polygon points="141.70,502.10 144.80,514.60 138.60,514.60" fill="#050505"/>
<line x1="138.30" y1="492.50" x2="185.20" y2="492.50" stroke="#222" stroke-width="1.1" />
<line x1="138.30" y1="502.10" x2="185.20" y2="502.10" stroke="#222" stroke-width="1.1" />
<g transform="translate(139.80,457.25) rotate(-90 0 16.6)" fill="none" stroke="#282828" stroke-width="1.15" stroke-linecap="round" stroke-linejoin="round" vector-effect="non-scaling-stroke"><path vector-effect="non-scaling-stroke" transform="translate(0.00,0) scale(1.5986,1.6600)" d="M0,1.9 L2.3,0 L2.3,10 M0,10 L4.3,10"/><path vector-effect="non-scaling-stroke" transform="translate(12.31,0) scale(1.5986,1.6600)" d="M1.7,0 L5.3,0 L7,2.45 L5.3,4.95 L1.7,4.95 L0,2.45 Z M1.7,4.95 L0,7.45 L1.7,10 L5.3,10 L7,7.45 L5.3,4.95"/></g>
<g transform="translate(131.60,437.45) rotate(-90 0 7)" fill="none" stroke="#282828" stroke-width="1.1" stroke-linecap="round" stroke-linejoin="round" vector-effect="non-scaling-stroke"><path vector-effect="non-scaling-stroke" transform="translate(0.00,0) scale(0.8049,0.7000)" d="M0,0 L0,10 M0,5.6 L1.8,3.8 L4.3,3.8 L6,5.6 L6,10"/><path vector-effect="non-scaling-stroke" transform="translate(7.57,0) scale(0.8049,0.7000)" d="M1.8,10 L3.5,10 L7,6.3 L7,1.6 L5.1,0 L2,0 L0,1.6 L0,3.1 L2,5 L7,5"/></g>
<line x1="185.30" y1="502.10" x2="185.30" y2="593.50" stroke="#222" stroke-width="1.1" />
<line x1="190.80" y1="502.10" x2="190.80" y2="561.00" stroke="#222" stroke-width="1.1" />
<line x1="220.40" y1="505.00" x2="220.40" y2="593.50" stroke="#222" stroke-width="1.1" />
<line x1="149.20" y1="557.50" x2="209.70" y2="557.50" stroke="#222" stroke-width="1.1" />
<polygon points="185.30,557.50 172.80,560.60 172.80,554.40" fill="#050505"/>
<polygon points="190.80,557.50 203.30,554.40 203.30,560.60" fill="#050505"/>
<g transform="translate(150.55,538.90) rotate(0 0 16.1)" fill="none" stroke="#282828" stroke-width="1.15" stroke-linecap="round" stroke-linejoin="round" vector-effect="non-scaling-stroke"><path vector-effect="non-scaling-stroke" transform="translate(0.00,0) scale(1.2083,1.6100)" d="M0,1.9 L2.3,0 L2.3,10 M0,10 L4.3,10"/><path vector-effect="non-scaling-stroke" transform="translate(9.30,0) scale(1.2083,1.6100)" d="M0,1.9 L2.3,0 L2.3,10 M0,10 L4.3,10"/></g>
<line x1="166.70" y1="590.30" x2="239.20" y2="590.30" stroke="#222" stroke-width="1.1" />
<polygon points="185.30,590.30 172.80,593.40 172.80,587.20" fill="#050505"/>
<polygon points="220.40,590.30 232.90,587.20 232.90,593.40" fill="#050505"/>
<g transform="translate(189.85,570.90) rotate(0 0 16.5)" fill="none" stroke="#282828" stroke-width="1.15" stroke-linecap="round" stroke-linejoin="round" vector-effect="non-scaling-stroke"><path vector-effect="non-scaling-stroke" transform="translate(0.00,0) scale(1.5057,1.6500)" d="M5.2,0 L3.45,0 L0,3.3 L0,8 L2.1,10 L5,10 L7,8 L7,6.5 L5.4,5 L0,5"/><path vector-effect="non-scaling-stroke" transform="translate(15.66,0) scale(1.5057,1.6500)" d="M1.8,10 L3.5,10 L7,6.3 L7,1.6 L5.1,0 L2,0 L0,1.6 L0,3.1 L2,5 L7,5"/></g>
<circle cx="1190.90" cy="393.20" r="17.30" stroke="#0a0a0a" stroke-width="2.1" fill="#fff" />
<circle cx="1190.90" cy="393.20" r="9.80" stroke="#0a0a0a" stroke-width="2.1" fill="#fff" />
<circle cx="1397.50" cy="393.20" r="17.30" stroke="#0a0a0a" stroke-width="2.1" fill="#fff" />
<circle cx="1397.50" cy="393.20" r="9.80" stroke="#0a0a0a" stroke-width="2.1" fill="#fff" />
<circle cx="1294.20" cy="497.40" r="140.80" stroke="#0a0a0a" stroke-width="2.3" fill="#fff" />
<circle cx="1294.20" cy="497.40" r="128.00" stroke="#222" stroke-width="0.9" fill="none" stroke-dasharray="9.7 0.8 1.2 0.8"/>
<circle cx="1294.20" cy="497.40" r="115.20" stroke="#0a0a0a" stroke-width="2.3" fill="none" />
<circle cx="1294.20" cy="497.40" r="109.80" stroke="#0a0a0a" stroke-width="1.7" fill="none" />
<circle cx="1412.46" cy="448.42" r="4.10" stroke="#0a0a0a" stroke-width="2.2" fill="#fff" />
<line x1="1410.86" y1="449.72" x2="1414.06" y2="447.12" stroke="#0a0a0a" stroke-width="1" />
<circle cx="1343.18" cy="379.14" r="4.10" stroke="#0a0a0a" stroke-width="2.2" fill="#fff" />
<line x1="1341.58" y1="380.44" x2="1344.78" y2="377.84" stroke="#0a0a0a" stroke-width="1" />
<circle cx="1245.22" cy="379.14" r="4.10" stroke="#0a0a0a" stroke-width="2.2" fill="#fff" />
<line x1="1243.62" y1="380.44" x2="1246.82" y2="377.84" stroke="#0a0a0a" stroke-width="1" />
<circle cx="1175.94" cy="448.42" r="4.10" stroke="#0a0a0a" stroke-width="2.2" fill="#fff" />
<line x1="1174.34" y1="449.72" x2="1177.54" y2="447.12" stroke="#0a0a0a" stroke-width="1" />
<circle cx="1175.94" cy="546.38" r="4.10" stroke="#0a0a0a" stroke-width="2.2" fill="#fff" />
<line x1="1174.34" y1="547.68" x2="1177.54" y2="545.08" stroke="#0a0a0a" stroke-width="1" />
<circle cx="1245.22" cy="615.66" r="4.10" stroke="#0a0a0a" stroke-width="2.2" fill="#fff" />
<line x1="1243.62" y1="616.96" x2="1246.82" y2="614.36" stroke="#0a0a0a" stroke-width="1" />
<circle cx="1343.18" cy="615.66" r="4.10" stroke="#0a0a0a" stroke-width="2.2" fill="#fff" />
<line x1="1341.58" y1="616.96" x2="1344.78" y2="614.36" stroke="#0a0a0a" stroke-width="1" />
<circle cx="1412.46" cy="546.38" r="4.10" stroke="#0a0a0a" stroke-width="2.2" fill="#fff" />
<line x1="1410.86" y1="547.68" x2="1414.06" y2="545.08" stroke="#0a0a0a" stroke-width="1" />
<circle cx="1294.20" cy="497.40" r="39.70" stroke="#0a0a0a" stroke-width="3.1" fill="none" />
<circle cx="1294.20" cy="497.40" r="27.80" stroke="#0a0a0a" stroke-width="2.0" fill="none" />
<circle cx="1294.20" cy="497.40" r="20.00" stroke="#0a0a0a" stroke-width="2.5" fill="none" />
<circle cx="1294.20" cy="497.40" r="17.40" stroke="#0a0a0a" stroke-width="1.2" fill="none" />
<circle cx="1294.20" cy="497.40" r="8.20" stroke="#0a0a0a" stroke-width="3.4" fill="none" />
<circle cx="1294.20" cy="497.40" r="3.80" stroke="#0a0a0a" stroke-width="1.6" fill="none" />
<rect x="1311.20" y="494.20" width="3.00" height="6.40" stroke="#0a0a0a" stroke-width="0.5" fill="#0a0a0a" />
<line x1="1294.20" y1="240.00" x2="1294.20" y2="641.00" stroke="#151515" stroke-width="1.15" stroke-dasharray="9.7 0.8 1.2 0.8"/>
<line x1="1153.00" y1="497.40" x2="1435.00" y2="497.40" stroke="#151515" stroke-width="1.15" stroke-dasharray="9.7 0.8 1.2 0.8"/>
<line x1="1093.30" y1="497.40" x2="1153.50" y2="497.40" stroke="#222" stroke-width="1.1" />
<line x1="1435.00" y1="497.40" x2="1515.40" y2="497.40" stroke="#222" stroke-width="1.1" />
<rect x="1220.00" y="287.20" width="163.30" height="73.60" stroke="#0a0a0a" stroke-width="2.3" fill="none" />
<rect x="1219.10" y="287.20" width="4.60" height="73.60" stroke="#0a0a0a" stroke-width="0.3" fill="#0a0a0a" />
<path d="M1219.2,350.6 L1385.5,297.8 M1219.2,353.9 L1385.5,301.1" stroke="#0a0a0a" stroke-width="2.0" fill="none" />
<path d="M1218.9,349.8 L1218.9,355.5 M1385.9,297 L1385.9,303" stroke="#0a0a0a" stroke-width="2.4" fill="none" />
<path d="M1240,360.8 L1246.5,364.3 M1251.8,360.8 L1254,362.6 M1348,360.8 L1342,364.3 M1337,360.8 L1334.5,362.6" stroke="#0a0a0a" stroke-width="1.2" fill="none" />
<rect x="1380.20" y="287.20" width="4.60" height="73.60" stroke="#0a0a0a" stroke-width="0.3" fill="#0a0a0a" />
<rect x="1384.90" y="313.30" width="2.80" height="38.10" stroke="#222" stroke-width="0.3" fill="#2e2e2e" />
<path d="M1387.7,315.6 L1405.6,315.6 Q1408.6,315.6 1408.6,318.6 L1408.6,346.5 Q1408.6,349.5 1405.6,349.5 L1387.7,349.5 Z" stroke="#0a0a0a" stroke-width="1.9" fill="#fff" />
<line x1="1392.80" y1="315.60" x2="1392.80" y2="349.50" stroke="#0a0a0a" stroke-width="2.0" />
<line x1="1404.90" y1="315.60" x2="1404.90" y2="349.50" stroke="#0a0a0a" stroke-width="1.6" />
<rect x="1397.00" y="313.70" width="4.20" height="38.20" stroke="#0a0a0a" stroke-width="2.0" fill="#fff" rx="1" ry="1"/>
<line x1="1399.10" y1="315.00" x2="1399.10" y2="350.50" stroke="#555" stroke-width="0.8" />
<line x1="1220.00" y1="208.00" x2="1220.00" y2="287.00" stroke="#222" stroke-width="1.1" />
<line x1="1383.30" y1="208.00" x2="1383.30" y2="287.00" stroke="#222" stroke-width="1.1" />
<line x1="1294.20" y1="240.00" x2="1294.20" y2="250.00" stroke="#222" stroke-width="1.1" />
<line x1="1220.00" y1="211.70" x2="1383.30" y2="211.70" stroke="#222" stroke-width="1.1" />
<polygon points="1220.00,211.70 1232.50,208.60 1232.50,214.80" fill="#050505"/>
<polygon points="1383.30,211.70 1370.80,214.80 1370.80,208.60" fill="#050505"/>
<line x1="1220.00" y1="243.80" x2="1294.20" y2="243.80" stroke="#222" stroke-width="1.1" />
<polygon points="1220.00,243.80 1232.50,240.70 1232.50,246.90" fill="#050505"/>
<polygon points="1294.20,243.80 1281.70,246.90 1281.70,240.70" fill="#050505"/>
<g transform="translate(1283.55,192.50) rotate(0 0 16.1)" fill="none" stroke="#282828" stroke-width="1.15" stroke-linecap="round" stroke-linejoin="round" vector-effect="non-scaling-stroke"><path vector-effect="non-scaling-stroke" transform="translate(0.00,0) scale(1.5020,1.6100)" d="M0,1.8 L1.65,0 L5.1,0 L6.8,1.8 L6.8,2.9 L5.1,4.7 L3.2,4.7 M5.1,4.7 L6.8,6.5 L6.8,8.1 L5.1,10 L1.65,10 L0,8.1"/><path vector-effect="non-scaling-stroke" transform="translate(15.32,0) scale(1.5020,1.6100)" d="M0,1.9 L2.3,0 L2.3,10 M0,10 L4.3,10"/><path vector-effect="non-scaling-stroke" transform="translate(26.89,0) scale(1.5020,1.6100)" d="M1.8,10 L3.5,10 L7,6.3 L7,1.6 L5.1,0 L2,0 L0,1.6 L0,3.1 L2,5 L7,5"/></g>
<g transform="translate(1237.85,224.10) rotate(0 0 16.1)" fill="none" stroke="#282828" stroke-width="1.15" stroke-linecap="round" stroke-linejoin="round" vector-effect="non-scaling-stroke"><path vector-effect="non-scaling-stroke" transform="translate(0.00,0) scale(1.5299,1.6100)" d="M0,1.9 L2.3,0 L2.3,10 M0,10 L4.3,10"/><path vector-effect="non-scaling-stroke" transform="translate(11.78,0) scale(1.5299,1.6100)" d="M5.5,10 L5.5,0 L0,6.9 L7.2,6.9"/><path vector-effect="non-scaling-stroke" transform="translate(28.00,0) scale(1.5299,1.6100)" d="M6.6,0 L0.2,0 L0.2,4.2 L4.8,4.2 L6.8,6.1 L6.8,8.1 L4.9,10 L1.65,10 L0,8.3"/></g>
<line x1="1384.00" y1="287.30" x2="1515.40" y2="287.30" stroke="#222" stroke-width="1.1" />
<line x1="1386.00" y1="332.60" x2="1482.70" y2="332.60" stroke="#222" stroke-width="1.1" />
<line x1="1511.70" y1="287.30" x2="1511.70" y2="497.40" stroke="#222" stroke-width="1.1" />
<polygon points="1511.70,287.30 1514.80,299.80 1508.60,299.80" fill="#050505"/>
<polygon points="1511.70,497.40 1508.60,484.90 1514.80,484.90" fill="#050505"/>
<line x1="1479.10" y1="332.50" x2="1479.10" y2="497.40" stroke="#222" stroke-width="1.1" />
<polygon points="1479.10,332.50 1482.20,345.00 1476.00,345.00" fill="#050505"/>
<polygon points="1479.10,497.40 1476.00,484.90 1482.20,484.90" fill="#050505"/>
<g transform="translate(1509.80,393.25) rotate(-90 0 16.6)" fill="none" stroke="#282828" stroke-width="1.15" stroke-linecap="round" stroke-linejoin="round" vector-effect="non-scaling-stroke"><path vector-effect="non-scaling-stroke" transform="translate(0.00,0) scale(1.4854,1.6600)" d="M5.5,10 L5.5,0 L0,6.9 L7.2,6.9"/><path vector-effect="non-scaling-stroke" transform="translate(15.74,0) scale(1.4854,1.6600)" d="M0,1.9 L2.3,0 L2.3,10 M0,10 L4.3,10"/><path vector-effect="non-scaling-stroke" transform="translate(27.18,0) scale(1.4854,1.6600)" d="M0,2 L1.7,0 L3.9,0 L5.6,2 L5.6,8 L3.9,10 L1.7,10 L0,8 Z"/></g>
<g transform="translate(1477.70,419.85) rotate(-90 0 16.6)" fill="none" stroke="#282828" stroke-width="1.15" stroke-linecap="round" stroke-linejoin="round" vector-effect="non-scaling-stroke"><path vector-effect="non-scaling-stroke" transform="translate(0.00,0) scale(1.5846,1.6600)" d="M0,1.8 L1.65,0 L5.1,0 L6.8,1.8 L6.8,2.9 L5.1,4.7 L3.2,4.7 M5.1,4.7 L6.8,6.5 L6.8,8.1 L5.1,10 L1.65,10 L0,8.1"/><path vector-effect="non-scaling-stroke" transform="translate(16.16,0) scale(1.5846,1.6600)" d="M0,1.8 L1.7,0 L4.9,0 L6.8,1.8 L6.8,3 L5.2,4.7 L2,4.7 L0,6.5 L0,10 L6.8,10"/><path vector-effect="non-scaling-stroke" transform="translate(32.33,0) scale(1.5846,1.6600)" d="M0,1.8 L1.7,0 L4.9,0 L6.8,1.8 L6.8,3 L5.2,4.7 L2,4.7 L0,6.5 L0,10 L6.8,10"/></g>
<path d="M1094.20,497.40 A200,200 0 0 1 1204.02,318.88" stroke="#222" stroke-width="1" fill="none" />
<line x1="1175.94" y1="448.42" x2="1107.11" y2="419.91" stroke="#222" stroke-width="1.1" />
<polygon points="1094.20,497.40 1091.20,484.90 1097.20,484.90" fill="#050505"/>
<polygon points="1109.42,420.86 1108.19,433.66 1102.52,431.71" fill="#050505"/>
<polygon points="1109.42,420.86 1112.21,408.31 1117.60,410.94" fill="#050505"/>
<g transform="translate(1122.86,371.48) rotate(-49.5 0 16.1)" fill="none" stroke="#282828" stroke-width="1.15" stroke-linecap="round" stroke-linejoin="round" vector-effect="non-scaling-stroke"><path vector-effect="non-scaling-stroke" transform="translate(0.00,0) scale(1.5588,1.6100)" d="M1.7,0 L5.3,0 L7,2.45 L5.3,4.95 L1.7,4.95 L0,2.45 Z M1.7,4.95 L0,7.45 L1.7,10 L5.3,10 L7,7.45 L5.3,4.95"/><path vector-effect="non-scaling-stroke" transform="translate(16.21,0) scale(1.5588,1.6100)" d="M0,3 L7,10 M7,3 L0,10"/><path vector-effect="non-scaling-stroke" transform="translate(32.42,0) scale(1.5588,1.6100)" d="M5.5,10 L5.5,0 L0,6.9 L7.2,6.9"/><path vector-effect="non-scaling-stroke" transform="translate(48.95,0) scale(1.5588,1.6100)" d="M6.6,0 L0.2,0 L0.2,4.2 L4.8,4.2 L6.8,6.1 L6.8,8.1 L4.9,10 L1.65,10 L0,8.3"/><path vector-effect="non-scaling-stroke" transform="translate(64.85,0) scale(1.5588,1.6100)" d="M0.7,0 L1.9,0 L2.6,0.7 L2.6,1.9 L1.9,2.6 L0.7,2.6 L0,1.9 L0,0.7 Z"/></g>
<g transform="translate(1091.70,471.86) rotate(-79.5 0 16.1)" fill="none" stroke="#282828" stroke-width="1.15" stroke-linecap="round" stroke-linejoin="round" vector-effect="non-scaling-stroke"><path vector-effect="non-scaling-stroke" transform="translate(0.00,0) scale(1.5420,1.6100)" d="M0,1.8 L1.7,0 L4.9,0 L6.8,1.8 L6.8,3 L5.2,4.7 L2,4.7 L0,6.5 L0,10 L6.8,10"/><path vector-effect="non-scaling-stroke" transform="translate(15.73,0) scale(1.5420,1.6100)" d="M0,1.8 L1.7,0 L4.9,0 L6.8,1.8 L6.8,3 L5.2,4.7 L2,4.7 L0,6.5 L0,10 L6.8,10"/><path vector-effect="non-scaling-stroke" transform="translate(31.46,0) scale(1.5420,1.6100)" d="M0.15,8.9 L0.15,10"/><path vector-effect="non-scaling-stroke" transform="translate(37.16,0) scale(1.5420,1.6100)" d="M6.6,0 L0.2,0 L0.2,4.2 L4.8,4.2 L6.8,6.1 L6.8,8.1 L4.9,10 L1.65,10 L0,8.3"/><path vector-effect="non-scaling-stroke" transform="translate(52.89,0) scale(1.5420,1.6100)" d="M0.7,0 L1.9,0 L2.6,0.7 L2.6,1.9 L1.9,2.6 L0.7,2.6 L0,1.9 L0,0.7 Z"/></g>
<line x1="1417.84" y1="464.27" x2="1061.80" y2="559.60" stroke="#222" stroke-width="1.1" />
<polygon points="1417.84,464.27 1406.54,470.40 1404.99,464.61" fill="#050505"/>
<polygon points="1173.17,529.83 1184.47,523.70 1186.02,529.49" fill="#050505"/>
<g transform="translate(1052.03,539.76) rotate(-15 0 16.1)" fill="none" stroke="#282828" stroke-width="1.15" stroke-linecap="round" stroke-linejoin="round" vector-effect="non-scaling-stroke"><path vector-effect="non-scaling-stroke" transform="translate(0.00,0) scale(1.5434,1.6100)" d="M0,3.5 L1.8,1.5 L4.6,1.5 L6.4,3.5 L6.4,7.3 L4.6,9.3 L1.8,9.3 L0,7.3 Z M0.3,10.5 L6.1,-0.3"/><path vector-effect="non-scaling-stroke" transform="translate(15.12,0) scale(1.5434,1.6100)" d="M6.6,0 L0.2,0 L0.2,4.2 L4.8,4.2 L6.8,6.1 L6.8,8.1 L4.9,10 L1.65,10 L0,8.3"/><path vector-effect="non-scaling-stroke" transform="translate(30.87,0) scale(1.5434,1.6100)" d="M0,2 L1.7,0 L3.9,0 L5.6,2 L5.6,8 L3.9,10 L1.7,10 L0,8 Z"/><path vector-effect="non-scaling-stroke" transform="translate(44.76,0) scale(1.5434,1.6100)" d="M0,2 L1.7,0 L3.9,0 L5.6,2 L5.6,8 L3.9,10 L1.7,10 L0,8 Z"/></g>
<g transform="translate(1108.33,527.66) rotate(-15 0 8.2)" fill="none" stroke="#222" stroke-width="1.45" stroke-linecap="round" stroke-linejoin="round" vector-effect="non-scaling-stroke"><path vector-effect="non-scaling-stroke" transform="translate(0.00,0) scale(0.7578,0.8200)" d="M0,4.2 L6,4.2 M3,1.2 L3,7.2 M0,9.6 L6,9.6"/><path vector-effect="non-scaling-stroke" transform="translate(7.12,0) scale(0.7578,0.8200)" d="M0,2 L1.7,0 L3.9,0 L5.6,2 L5.6,8 L3.9,10 L1.7,10 L0,8 Z"/><path vector-effect="non-scaling-stroke" transform="translate(13.94,0) scale(0.7578,0.8200)" d="M0.15,8.9 L0.15,10"/><path vector-effect="non-scaling-stroke" transform="translate(16.75,0) scale(0.7578,0.8200)" d="M6.6,0 L0.2,0 L0.2,4.2 L4.8,4.2 L6.8,6.1 L6.8,8.1 L4.9,10 L1.65,10 L0,8.3"/></g>
<line x1="1041.90" y1="600.90" x2="1127.80" y2="600.90" stroke="#222" stroke-width="1.1" />
<line x1="1127.80" y1="600.90" x2="1172.74" y2="550.28" stroke="#222" stroke-width="1.1" />
<polygon points="1172.94,550.08 1168.79,559.60 1164.45,556.06" fill="#050505"/>
<g transform="translate(1042.55,579.60) rotate(0 0 16)" fill="none" stroke="#282828" stroke-width="1.15" stroke-linecap="round" stroke-linejoin="round" vector-effect="non-scaling-stroke"><path vector-effect="non-scaling-stroke" transform="translate(0.00,0) scale(1.5236,1.6000)" d="M1.7,0 L5.3,0 L7,2.45 L5.3,4.95 L1.7,4.95 L0,2.45 Z M1.7,4.95 L0,7.45 L1.7,10 L5.3,10 L7,7.45 L5.3,4.95"/><path vector-effect="non-scaling-stroke" transform="translate(15.85,0) scale(1.5236,1.6000)" d="M0,3 L7,10 M7,3 L0,10"/><path vector-effect="non-scaling-stroke" transform="translate(31.69,0) scale(1.5236,1.6000)" d="M0,3.5 L1.8,1.5 L4.6,1.5 L6.4,3.5 L6.4,7.3 L4.6,9.3 L1.8,9.3 L0,7.3 Z M0.3,10.5 L6.1,-0.3"/><path vector-effect="non-scaling-stroke" transform="translate(46.62,0) scale(1.5236,1.6000)" d="M0,1.9 L2.3,0 L2.3,10 M0,10 L4.3,10"/><path vector-effect="non-scaling-stroke" transform="translate(58.36,0) scale(1.5236,1.6000)" d="M1.7,0 L5.3,0 L7,2.45 L5.3,4.95 L1.7,4.95 L0,2.45 Z M1.7,4.95 L0,7.45 L1.7,10 L5.3,10 L7,7.45 L5.3,4.95"/><path vector-effect="non-scaling-stroke" transform="translate(74.20,0) scale(1.5236,1.6000)" d="M0.15,8.9 L0.15,10"/><path vector-effect="non-scaling-stroke" transform="translate(79.84,0) scale(1.5236,1.6000)" d="M6.6,0 L0.2,0 L0.2,4.2 L4.8,4.2 L6.8,6.1 L6.8,8.1 L4.9,10 L1.65,10 L0,8.3"/></g>
<path d="M1468,767.6 L1410.4,767.6 A34.5,34.5 0 0 0 1410.4,836.7 L1462,836.7 M1482,836.7 L1538.8,836.7 A34.5,34.5 0 0 0 1538.8,767.6 L1490,767.6" stroke="#e9e9e9" stroke-width="1.4" fill="none" />
<path d="M1468,775.6 L1410.8,775.6 A26.3,26.3 0 0 0 1410.8,828.2 L1466,828.2 M1480,828.2 L1537.8,828.2 A26.3,26.3 0 0 0 1537.8,775.6 L1484,775.6" stroke="#e9e9e9" stroke-width="1.4" fill="none" />
<path d="M1404.9,793.9 L1409.5,784.7 L1441.1,784.7 L1418.7,825.5 L1407.5,825.5 L1425.3,793.9 Z" stroke="#e9e9e9" stroke-width="1.3" fill="none" />
<path d="M1412.1,776.2 L1468.7,776.2 L1447.0,817.6 L1462.1,817.6 L1456.8,827.5 L1422.6,827.5" stroke="#e9e9e9" stroke-width="1.3" fill="none" />
<path d="M1485.8,793.9 L1489.1,785.4 L1502.9,785.4 L1480.5,825.5" stroke="#e9e9e9" stroke-width="1.3" fill="none" />
<path d="M1483.2,776.2 L1531.2,776.2 L1506.8,817.6 L1522.6,817.6" stroke="#e9e9e9" stroke-width="1.3" fill="none" />
<path d="M1542.4,768.3 L1522.6,808.4 L1542.4,808.4 L1537.1,818.3 L1508.2,818.9" stroke="#e9e9e9" stroke-width="1.3" fill="none" />
<path d="M1462.1,759.7 L1470.0,754.5 L1477.2,746.6 L1475.3,754.5 L1488.4,757.1 L1480.5,761.1 L1475.3,778.2 L1473.9,787.4 L1480.5,790.0 L1473.9,795.3 L1475.3,813.7 L1479.2,816.3 L1472.6,817.6 L1464.7,836.7" stroke="#ededed" stroke-width="1.2" fill="none" />
<ellipse cx="1467.5" cy="810" rx="5.5" ry="6.5" fill="none" stroke="#e9e9e9" stroke-width="1.3"/>
<line x1="1594.30" y1="0.00" x2="1594.30" y2="860.00" stroke="#ececec" stroke-width="1.2" />
</svg>
</body></html>
